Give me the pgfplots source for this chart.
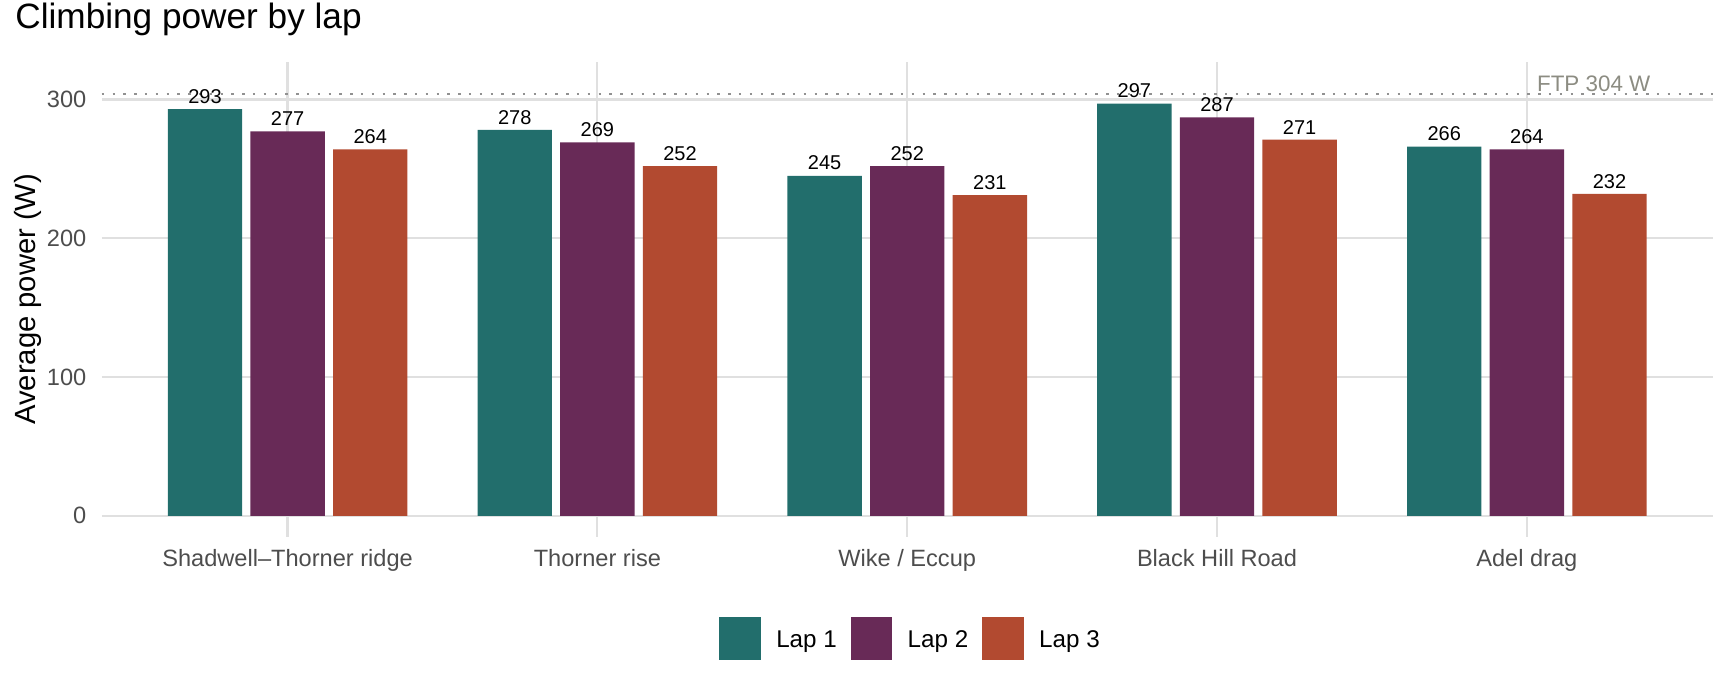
\documentclass[border=0pt]{standalone}
\usepackage{fontspec}
\setmainfont{Liberation Sans}
\usepackage{pgfplots}
\pgfplotsset{compat=1.18}
\definecolor{lapA}{RGB}{34,110,108}
\definecolor{lapB}{RGB}{104,42,87}
\definecolor{lapC}{RGB}{178,74,48}
\definecolor{gridc}{RGB}{224,224,224}
\definecolor{tickc}{RGB}{77,77,77}
\definecolor{ftpc}{RGB}{140,140,130}
\definecolor{dotc}{RGB}{145,145,145}
\begin{document}
\begin{tikzpicture}
\begin{axis}[
  name=ax,
  ybar, bar width=0.24,
  scale only axis, width=805.5pt, height=237.5pt,
  xmin=-0.6, xmax=4.6, ymin=-15.1, ymax=327.2,
  clip=false,
  axis line style={draw=none}, major tick length=0pt,
  xtick={0,1,2,3,4},
  xticklabels={Shadwell–Thorner ridge, Thorner rise, Wike / Eccup, Black Hill Road, Adel drag},
  ytick={0,100,200,300},
  /pgf/number format/assume math mode=true,
  grid=major, major grid style={gridc, line width=1.1pt},
  tick label style={font=\fontsize{11.8}{14}\selectfont, text=tickc},
  yticklabel style={inner sep=0pt, xshift=-7.5pt},
  xticklabel style={anchor=base, inner sep=0pt, yshift=-14.65pt},
  ylabel={Average power (W)},
  ylabel style={at={(axis description cs:-0.0411,0.5)}, anchor=base, inner sep=0pt, font=\fontsize{14.6}{17}\selectfont},
  title={Climbing power by lap},
  title style={at={(axis description cs:-0.0538,1.0442)}, anchor=base west, inner sep=0pt, font=\fontsize{17.6}{20}\selectfont},
  every node near coord/.append style={font=\fontsize{10}{12}\selectfont, text=black, inner sep=0pt, anchor=south, yshift=2.6pt},
  legend columns=3,
  legend style={at={(0.5014,-0.2147)}, anchor=center, draw=none, fill=none,
    font=\fontsize{12.1}{14}\selectfont,
    nodes={inner sep=0pt, text height=8.66pt, text depth=0pt},
    /tikz/every odd column/.style={column sep=7.7pt},
    /tikz/every even column/.style={column sep=6.9pt}},
]
\addplot[sharp plot, dotc, line width=1.2pt, dash pattern=on 1.2pt off 4.2pt, forget plot] coordinates {(-0.6,304) (4.6,304)};
\addplot[bar shift=-0.2667, fill=lapA, draw=none, nodes near coords,
  legend image code/.code={\fill[lapA] (0pt,-10.7pt) rectangle (20.85pt,10.7pt);}]
  coordinates {(0,293) (1,278) (2,245) (3,297) (4,266)};
\addlegendentry{Lap 1}
\addplot[bar shift=0, fill=lapB, draw=none, nodes near coords,
  legend image code/.code={\fill[lapB] (0pt,-10.7pt) rectangle (20.85pt,10.7pt);}]
  coordinates {(0,277) (1,269) (2,252) (3,287) (4,264)};
\addlegendentry{Lap 2}
\addplot[bar shift=0.2667, fill=lapC, draw=none, nodes near coords,
  legend image code/.code={\fill[lapC] (0pt,-10.7pt) rectangle (20.85pt,10.7pt);}]
  coordinates {(0,264) (1,252) (2,231) (3,271) (4,232)};
\addlegendentry{Lap 3}
\node[anchor=base east, inner sep=0pt, text=ftpc, font=\fontsize{11.2}{13}\selectfont, yshift=1pt] at (axis cs:4.4,304) {FTP 304 W};
\end{axis}
\pgfresetboundingbox
\path (ax.south west) ++(-50.85pt,-77.15pt) rectangle ++(864pt,345.5pt);
\end{tikzpicture}
\end{document}
